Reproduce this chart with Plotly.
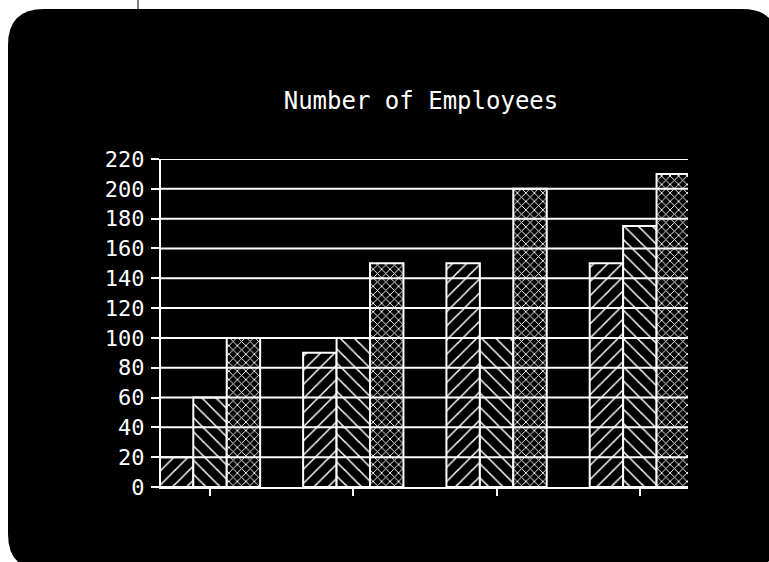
import plotly.graph_objects as go

# Employee counts per group, three series per group
groups = [1, 2, 3, 4]
series_a = [20, 90, 150, 150]
series_b = [60, 100, 100, 175]
series_c = [100, 150, 200, 210]

y_ticks = list(range(0, 221, 20))
title_text = "Number of Employees"

W, H = 769, 562
ML, MR, MT, MB = 161, 81, 159, 75
PW, PH = W - ML - MR, H - MT - MB


def px_x(px):
    return (px - ML) / PW


def px_y(py):
    return (H - MB - py) / PH


FONT = "DejaVu Sans Mono"

fig = go.Figure()

patterns = [("/", 10, 0.15), ("\\", 10, 0.15), ("x", 6, 0.28)]
for vals, (shape, size, sol) in zip([series_a, series_b, series_c], patterns):
    fig.add_trace(go.Bar(
        x=groups, y=vals,
        marker=dict(
            color="black",
            line=dict(color="white", width=2),
            pattern=dict(shape=shape, size=size, solidity=sol,
                         fgcolor="white", bgcolor="black", fillmode="replace"),
        ),
        showlegend=False,
    ))

shapes = []

# Rounded dark panel behind the chart
l, t, r, b, rad = 8, 9, 778, 570, 36
path = (
    f"M {px_x(l + rad)},{px_y(t)} L {px_x(r - rad)},{px_y(t)} "
    f"Q {px_x(r)},{px_y(t)} {px_x(r)},{px_y(t + rad)} "
    f"L {px_x(r)},{px_y(b - rad)} Q {px_x(r)},{px_y(b)} {px_x(r - rad)},{px_y(b)} "
    f"L {px_x(l + rad)},{px_y(b)} Q {px_x(l)},{px_y(b)} {px_x(l)},{px_y(b - rad)} "
    f"L {px_x(l)},{px_y(t + rad)} Q {px_x(l)},{px_y(t)} {px_x(l + rad)},{px_y(t)} Z"
)
shapes.append(dict(type="path", path=path, xref="paper", yref="paper",
                   fillcolor="black", line=dict(width=0), layer="below"))
shapes.append(dict(type="line", xref="paper", yref="paper",
                   x0=px_x(138), x1=px_x(138), y0=px_y(0), y1=px_y(9),
                   line=dict(color="black", width=1)))

# Horizontal grid drawn over the bars
for v in y_ticks[1:]:
    shapes.append(dict(type="line", xref="paper", yref="y",
                       x0=0, x1=1, y0=v, y1=v,
                       line=dict(color="white", width=2), layer="above"))

fig.update_layout(
    width=W, height=H,
    margin=dict(l=ML, r=MR, t=MT, b=MB),
    paper_bgcolor="white",
    plot_bgcolor="black",
    barmode="group",
    bargap=0.30,
    bargroupgap=0,
    shapes=shapes,
    title=dict(text=title_text, x=421 / W, xanchor="center",
               y=1 - 101 / H, yanchor="middle", xref="container", yref="container",
               font=dict(family=FONT, size=24, color="white")),
    xaxis=dict(range=[1 - 0.342, 4 + 0.336], tickvals=groups, ticktext=[""] * 4,
               ticks="outside", ticklen=7, tickwidth=1.5, tickcolor="white",
               showgrid=False, zeroline=False,
               showline=True, linecolor="white", linewidth=2),
    yaxis=dict(range=[0, 220], tickvals=y_ticks,
               ticks="outside", ticklen=8, tickwidth=2, tickcolor="white",
               showgrid=False, zeroline=False,
               showline=True, linecolor="white", linewidth=2,
               ticklabelstandoff=2,
               tickfont=dict(family=FONT, size=22, color="white")),
)

fig.write_html("out.html")
